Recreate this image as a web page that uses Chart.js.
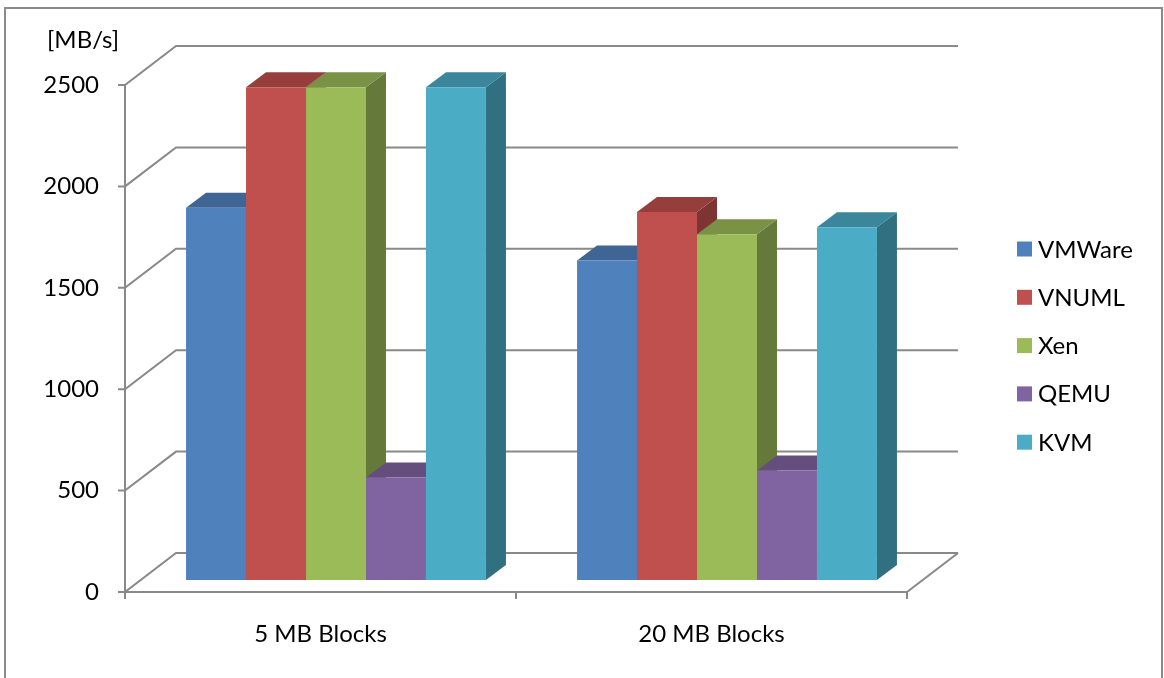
<!DOCTYPE html>
<html>
<head>
<meta charset="utf-8">
<title>Throughput</title>
<script src="https://cdn.jsdelivr.net/npm/chart.js@4.4.1/dist/chart.umd.min.js"></script>
<style>
  html, body { margin: 0; padding: 0; background: #fff; }
  #wrap { width: 1164px; height: 678px; }
</style>
</head>
<body>
<div id="wrap"><canvas id="chart" width="1164" height="678"></canvas></div>
<script>
// ------------------------------------------------------------
// Data
// ------------------------------------------------------------
const categories  = ['5 MB Blocks', '20 MB Blocks'];
const seriesNames = ['VMWare', 'VNUML', 'Xen', 'QEMU', 'KVM'];
const vmware = [1835, 1575];
const vnuml  = [2430, 1815];
const xen    = [2430, 1705];
const qemu   = [505, 540];
const kvm    = [2430, 1740];
const yTicks = [0, 500, 1000, 1500, 2000, 2500];
const unitLabel = '[MB/s]';

(function () {
  'use strict';

  // ----------------------------------------------------------
  // Style
  // ----------------------------------------------------------
  const colors = ['#4F81BD', '#C0504D', '#9BBB59', '#8064A2', '#4BACC6'];
  const FONT   = 'Lato, "Open Sans", sans-serif';
  const FSIZE  = 24;
  const GRID   = '#898989';

  // 3D offsets, relative to the plane of the bar fronts
  const FRONT = { dx: -15.5, dy: 12 };
  const BACK  = { dx: 35.5,  dy: -27 };
  const DEPTH = { dx: 20,    dy: -15 };

  function shade(hex, f) {
    const n = parseInt(hex.slice(1), 16);
    const r = Math.round(((n >> 16) & 255) * f);
    const g = Math.round(((n >> 8) & 255) * f);
    const b = Math.round((n & 255) * f);
    return 'rgb(' + r + ',' + g + ',' + b + ')';
  }

  function poly(ctx, pts) {
    ctx.beginPath();
    ctx.moveTo(pts[0][0], pts[0][1]);
    for (let i = 1; i < pts.length; i++) ctx.lineTo(pts[i][0], pts[i][1]);
    ctx.closePath();
    ctx.fill();
  }

  // ----------------------------------------------------------
  // Plugin : walls, floor, bar sides/tops, legend, frame
  // ----------------------------------------------------------
  const box3d = {
    id: 'box3d',

    beforeDraw(chart) {
      const ctx = chart.ctx;
      ctx.save();
      ctx.fillStyle = '#fff';
      ctx.fillRect(0, 0, chart.width, chart.height);
      ctx.restore();
    },

    beforeDatasetsDraw(chart) {
      const { ctx, chartArea: a, scales } = chart;
      const y = scales.y;

      const fl = a.left + FRONT.dx, fr = a.right + FRONT.dx;
      const bl = a.left + BACK.dx,  br = a.right + BACK.dx;
      const b0 = y.getPixelForValue(0);

      ctx.save();
      ctx.strokeStyle = GRID;
      ctx.lineWidth   = 2;
      ctx.beginPath();

      // back wall + side wall gridlines, y ticks
      y.ticks.forEach((t) => {
        const p = y.getPixelForValue(t.value);
        ctx.moveTo(fl - 7, p + FRONT.dy);
        ctx.lineTo(fl, p + FRONT.dy);
        ctx.lineTo(bl, p + BACK.dy);
        ctx.lineTo(br, p + BACK.dy);
      });

      // floor
      ctx.moveTo(br, b0 + BACK.dy);
      ctx.lineTo(fr, b0 + FRONT.dy);
      ctx.lineTo(fl, b0 + FRONT.dy);

      // value axis
      ctx.moveTo(fl, b0 + FRONT.dy);
      ctx.lineTo(fl, y.getPixelForValue(y.max) + FRONT.dy);

      // category ticks
      const step = (a.right - a.left) / categories.length;
      for (let k = 0; k <= categories.length; k++) {
        const xk = a.left + k * step + FRONT.dx;
        ctx.moveTo(xk, b0 + FRONT.dy);
        ctx.lineTo(xk, b0 + FRONT.dy + 7);
      }
      ctx.stroke();

      // side and top faces, left to right
      chart.data.datasets.forEach((ds, i) => {
        const meta = chart.getDatasetMeta(i);
        meta.data.forEach((bar) => {
          const p = bar.getProps(['x', 'y', 'base', 'width'], true);
          const l = p.x - p.width / 2;
          const r = p.x + p.width / 2;

          ctx.fillStyle = shade(ds.backgroundColor, 0.65);
          poly(ctx, [
            [r, p.y], [r + DEPTH.dx, p.y + DEPTH.dy],
            [r + DEPTH.dx, p.base + DEPTH.dy], [r, p.base],
          ]);

          ctx.fillStyle = shade(ds.backgroundColor, 0.78);
          poly(ctx, [
            [l, p.y], [r, p.y],
            [r + DEPTH.dx, p.y + DEPTH.dy], [l + DEPTH.dx, p.y + DEPTH.dy],
          ]);
        });
      });
      ctx.restore();
    },

    afterDraw(chart) {
      const ctx = chart.ctx;
      ctx.save();

      // unit label
      ctx.fillStyle    = '#000';
      ctx.font         = FSIZE + 'px ' + FONT;
      ctx.textAlign    = 'left';
      ctx.textBaseline = 'alphabetic';
      ctx.fillText(unitLabel, 47, 48);

      // legend
      chart.data.datasets.forEach((ds, i) => {
        const cy = 249 + i * 48.3;
        ctx.fillStyle = ds.backgroundColor;
        ctx.fillRect(1017, cy - 7.5, 15, 15);
        ctx.fillStyle = '#000';
        ctx.fillText(ds.label, 1038, cy + 8.5);
      });

      // outer frame
      ctx.strokeStyle = '#8a8a8a';
      ctx.lineWidth   = 2;
      ctx.strokeRect(5, 8, 1157, 720);
      ctx.restore();
    },
  };

  // ----------------------------------------------------------
  // Chart
  // ----------------------------------------------------------
  const seriesData = [vmware, vnuml, xen, qemu, kvm];

  new Chart(document.getElementById('chart'), {
    type: 'bar',
    data: {
      labels: categories,
      datasets: seriesNames.map((name, i) => ({
        label:              name,
        data:               seriesData[i],
        backgroundColor:    colors[i],
        borderWidth:        0,
        categoryPercentage: 0.767,
        barPercentage:      1.0,
      })),
    },
    options: {
      responsive: false,
      animation:  false,
      layout: { padding: { left: 0, top: 73, right: 241.5, bottom: 0 } },
      plugins: {
        legend:  { display: false },
        tooltip: { enabled: false },
      },
      scales: {
        x: {
          offset: true,
          grid:   { display: false, drawTicks: false },
          border: { display: false },
          ticks:  {
            color: '#000',
            font: { family: FONT, size: FSIZE },
            padding: 40,
            labelOffset: FRONT.dx,
            maxRotation: 0,
          },
          afterFit: (s) => { s.height = 98; },
        },
        y: {
          min: yTicks[0],
          max: yTicks[yTicks.length - 1],
          grid:   { display: false, drawTicks: false },
          border: { display: false },
          ticks:  {
            stepSize: yTicks[1] - yTicks[0],
            color: '#000',
            font: { family: FONT, size: FSIZE },
            padding: 41.5,
            labelOffset: FRONT.dy,
            callback: (v) => String(v),
          },
          afterFit: (s) => { s.width = 140.5; },
        },
      },
    },
    plugins: [box3d],
  });
})();
</script>
</body>
</html>
